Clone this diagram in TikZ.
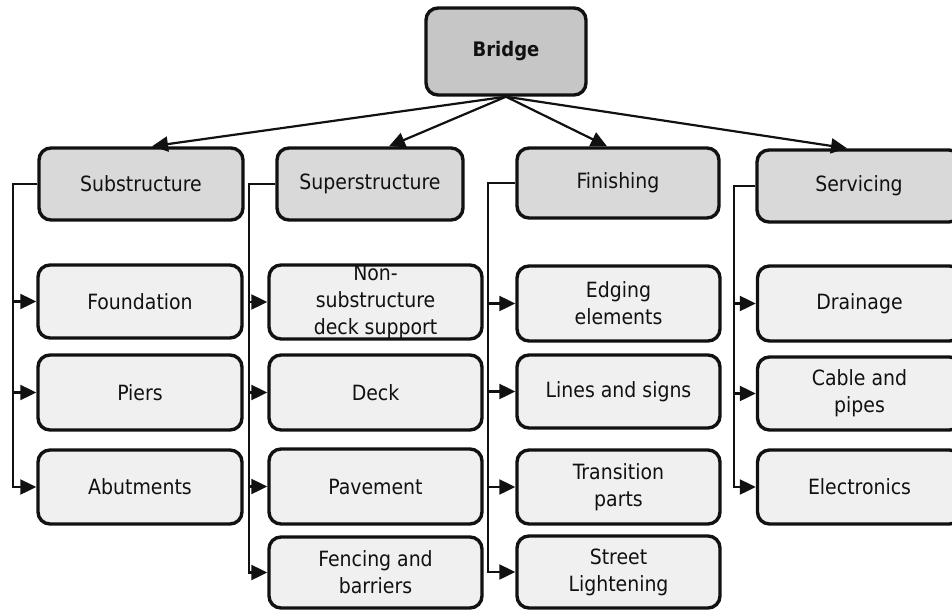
\documentclass[tikz,border=0pt]{standalone}
\usepackage{fontspec}
\setmainfont{DejaVu Sans Condensed}
\usetikzlibrary{arrows.meta,calc}
\definecolor{rootfill}{HTML}{C6C6C6}
\definecolor{groupfill}{HTML}{D9D9D9}
\definecolor{itemfill}{HTML}{F0F0F0}
\definecolor{edge}{HTML}{111111}
\definecolor{ink}{HTML}{111111}
\begin{document}
\begin{tikzpicture}[x=1pt,y=-1pt,
  labeltext/.style={font=\fontsize{21}{27}\selectfont, text=ink, align=center, inner sep=0pt},
  box/.style={draw=edge, line width=3.4pt, rounded corners=12pt, labeltext},
  root/.style={box, fill=rootfill, minimum width=160pt, minimum height=87pt,
               font=\fontsize{20}{25}\selectfont\bfseries},
  group/.style={box, fill=groupfill, minimum height=72pt},
  item/.style={box, fill=itemfill, minimum height=74pt},
  colA/.style={item, minimum width=204pt},
  colB/.style={item, minimum width=213pt},
  colC/.style={item, minimum width=203pt},
  colD/.style={item, minimum width=204pt},
  link/.style={draw=edge, line width=2.2pt, -{Triangle[length=16pt,width=15pt]}},
]
\useasboundingbox (0,0) rectangle (952,610);
\clip (0,0) rectangle (952,610);

% root
\node[root] (bridge) at (506,51.5) {Bridge};

% main groups
\node[group, minimum width=204pt] (sub) at (141,184) {Substructure};
\node[group, minimum width=186pt] (sup) at (370,184) {Superstructure};
\node[group, minimum width=202pt, minimum height=70pt] (fin) at (618,183) {Finishing};
\node[group, minimum width=204pt] (ser) at (859,186) {Servicing};

% substructure items
\node[colA, minimum height=73pt] (found) at (140,301.5) {Foundation};
\node[colA, minimum height=75pt] (piers) at (140,392.5) {Piers};
\node[colA] (abut) at (140,487) {Abutments};

% superstructure items
\node[colB] (nonsub) at (375.5,302) {};
\node[labeltext] (nonsubtext) at (nonsub) {Non-\\substructure\\deck support};
\node[colB, minimum height=75pt] (deck) at (375.5,392.5) {Deck};
\node[colB, minimum height=75pt] (pave) at (375.5,486.5) {Pavement};
\node[colB, minimum height=71pt] (fence) at (375.5,572.5) {Fencing and\\barriers};

% finishing items
\node[colC, minimum height=75pt] (edging) at (618.5,303.5) {Edging\\elements};
\node[colC, minimum height=73pt] (lines) at (618.5,391.5) {Lines and signs};
\node[colC] (trans) at (618.5,487) {Transition\\parts};
\node[colC, minimum height=72pt] (street) at (618.5,572) {Street\\Lightening};

% servicing items
\node[colD, minimum height=75pt] (drain) at (859.5,303.5) {Drainage};
\node[colD, minimum height=73pt] (cable) at (859.5,393.5) {Cable and\\pipes};
\node[colD] (elec) at (859.5,487) {Electronics};

% root to groups
\draw[link] (bridge.south) -- ($(sub.north)+(11,0)$);
\draw[link] (bridge.south) -- ($(sup.north)+(19,0)$);
\draw[link] (bridge.south) -- ($(fin.north)+(-11,0)$);
\draw[link] (bridge.south) -- ($(ser.north)+(-12,0)$);

% vertical bus lines of each group
\coordinate (busA) at (13,0);
\coordinate (busB) at (249,0);
\coordinate (busC) at (488,0);
\coordinate (busD) at (734,0);

\foreach \t in {found,piers,abut}
  \draw[link] (sub.west) -- (sub.west -| busA) |- (\t.west);
\foreach \t in {nonsub,deck,pave,fence}
  \draw[link] (sup.west) -- (sup.west -| busB) |- (\t.west);
\foreach \t in {edging,lines,trans,street}
  \draw[link] (fin.west) -- (fin.west -| busC) |- (\t.west);
\foreach \t in {drain,cable,elec}
  \draw[link] (ser.west) -- (ser.west -| busD) |- (\t.west);
\end{tikzpicture}
\end{document}
